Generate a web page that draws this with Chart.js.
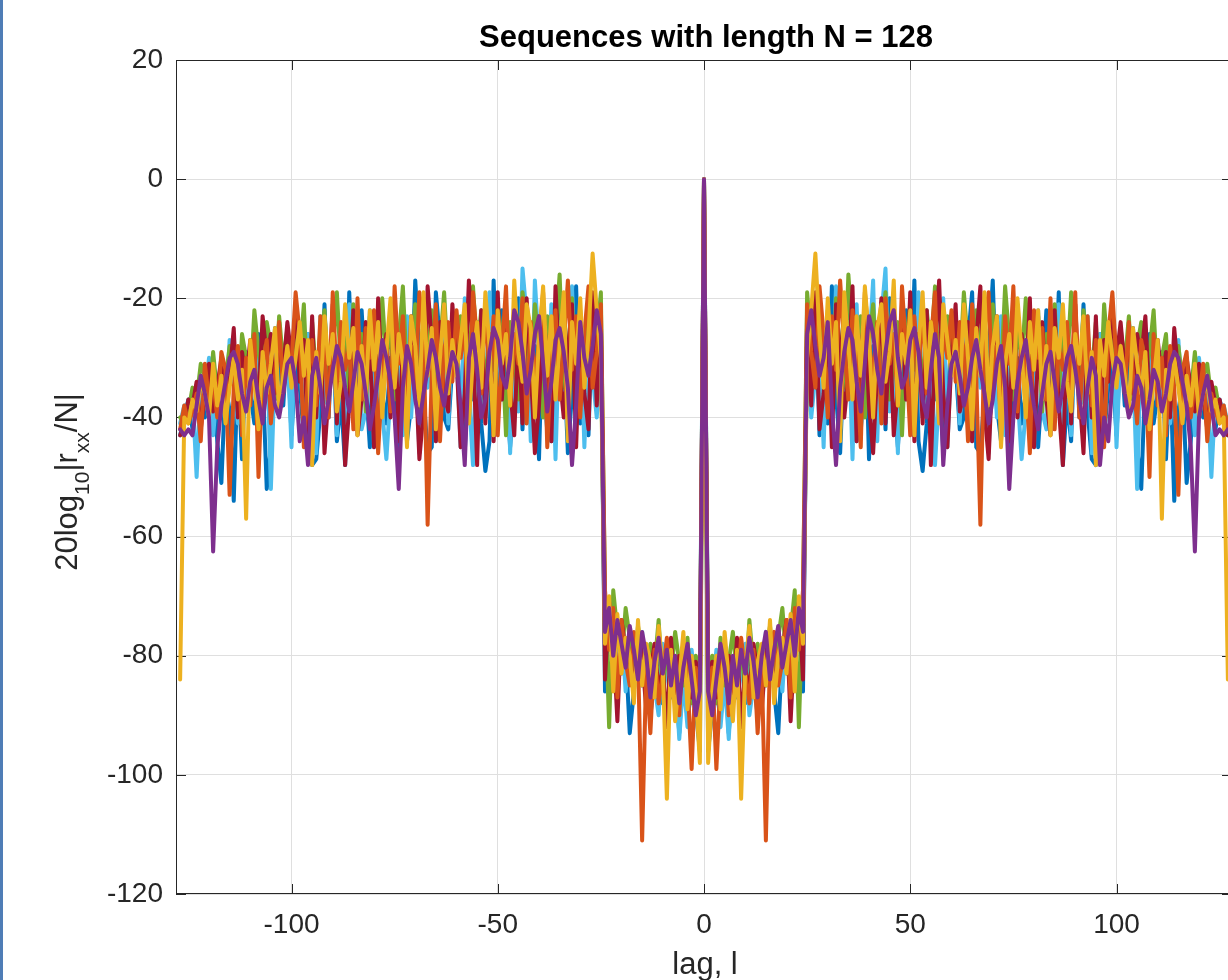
<!DOCTYPE html>
<html>
<head>
<meta charset="utf-8">
<title>Sequences with length N = 128</title>
<script src="https://cdn.jsdelivr.net/npm/chart.js@4.4.1/dist/chart.umd.min.js"></script>
<style>
  html, body { margin: 0; padding: 0; background: #fff; overflow: hidden; }
  #wrap { position: relative; width: 1228px; height: 980px; overflow: hidden; }
  #myChart { position: absolute; left: 0; top: 0; }
  #edge { position: absolute; left: 0; top: 0; width: 3px; height: 980px; background: #4f7db6; }
</style>
</head>
<body>
<div id="wrap">
  <canvas id="myChart" width="1240" height="980"></canvas>
  <div id="edge"></div>
</div>
<script>
// 20log10|r_xx/N| in dB for lags 1..127 (autocorrelation is even, negative lags mirror these)
const zeroLagDb = 0;

const blueDb = [
  -96, -89, -85, -91, -80, -93, -83, -87, -79, -88, -78, -84, -90, -80, -85, -76, -86, -93, -79, -83, -75, -81, -72, -86,
  -24, -38, -20, -43, -27, -41, -18, -36, -46, -29, -19, -40, -44, -33, -21, -47, -28, -39, -23, -42, -20, -35, -45, -34,
  -22, -38, -17, -44, -49, -41, -24, -37, -30, -46, -39, -25,
  -31, -42, -40, -27, -19, -45, -46, -36, -29, -17, -38, -44, -26, -47, -35, -30, -41, -36, -42, -25,
  -45, -34, -22, -41, -38, -19, -48, -37, -44, -24, -40, -21, -39, -47, -48, -26, -43, -35, -31, -43,
  -27, -38, -30, -25, -45, -52, -33, -26, -41, -36, -29, -47, -31, -54, -39, -34, -51, -44, -32, -36,
  -40, -33, -38, -42, -37, -40, -43
];
const orangeDb = [
  -88, -82, -99, -84, -78, -90, -81, -86, -77, -83, -88, -79, -93, -82, -111, -80, -76, -85, -81, -74, -87, -72, -79, -69,
  -21, -29, -35, -18, -26, -40, -23, -32, -17, -28, -37, -22, -30, -45, -19, -27, -34, -24, -41, -20, -31, -26, -38, -18,
  -29, -43, -23, -33, -21, -36, -27, -19, -40, -25, -30, -22,
  -34, -24, -29, -44, -21, -33, -58, -26, -19, -36, -28, -41, -23, -31, -18, -39, -27, -33, -46, -22,
  -30, -25, -37, -20, -42, -28, -32, -24, -35, -19, -40, -29, -23, -38, -27, -33, -45, -26, -19, -31,
  -29, -36, -24, -33, -41, -27, -31, -50, -26, -38, -30, -43, -28, -35, -53, -32, -29, -40, -34, -37,
  -31, -44, -36, -39, -41, -38, -42
];
const yellowDb = [
  -98, -86, -80, -89, -76, -84, -91, -79, -104, -82, -75, -87, -81, -78, -85, -74, -88, -80, -77, -83, -73, -86, -70, -78,
  -30, -22, -12.5, -26, -35, -20, -31, -24, -44, -19, -28, -37, -23, -33, -18, -27, -40, -25, -21, -34, -29, -17, -38, -26,
  -31, -22, -43, -28, -19, -35, -24, -30, -41, -21, -27, -33,
  -27, -36, -21, -30, -42, -25, -33, -19, -38, -28, -23, -45, -31, -26, -35, -20, -29, -40, -24, -32,
  -22, -37, -28, -43, -25, -30, -21, -34, -39, -26, -31, -23, -36, -29, -48, -27, -33, -24, -30, -35,
  -28, -33, -39, -25, -31, -36, -29, -42, -34, -27, -57, -32, -37, -30, -35, -41, -33, -38, -31, -40,
  -36, -34, -39, -37, -41, -40, -84
];
const purpleDb = [
  -86, -90, -84, -78, -82, -88, -80, -85, -79, -83, -77, -81, -87, -80, -76, -84, -79, -75, -82, -78, -74, -80, -72, -76,
  -26, -22, -28, -33, -30, -24, -38, -48, -35, -29, -25, -27, -34, -39, -31, -23, -26, -32, -36, -29, -24, -22, -30, -35,
  -33, -27, -25, -29, -37, -40, -32, -26, -30, -48, -38, -31,
  -29, -33, -38, -35, -30, -27, -32, -36, -41, -37, -31, -28, -35, -52, -40, -34, -30, -27, -33, -38,
  -42, -36, -31, -29, -34, -39, -35, -30, -28, -32, -37, -41, -35, -30, -33, -48, -40, -44, -34, -30,
  -31, -36, -40, -38, -33, -35, -41, -37, -32, -34, -39, -36, -31, -29, -30, -34, -38, -45, -62.5, -40,
  -36, -33, -38, -43, -42, -43, -42
];
const greenDb = [
  -84, -80, -88, -77, -85, -81, -76, -83, -79, -86, -74, -82, -78, -84, -80, -75, -83, -77, -72, -81, -76, -69, -92, -70,
  -19, -27, -33, -22, -30, -24, -38, -20, -29, -35, -16, -26, -31, -23, -40, -28, -21, -34, -25, -19, -37, -30, -24, -43,
  -27, -21, -32, -26, -36, -22, -29, -18, -34, -27, -23, -31,
  -24, -32, -19, -28, -35, -22, -30, -26, -41, -21, -29, -33, -18, -27, -37, -24, -31, -20, -34, -28,
  -23, -39, -26, -30, -21, -36, -25, -32, -19, -29, -35, -22, -27, -33, -24, -38, -21, -30, -26, -34,
  -25, -31, -23, -37, -28, -24, -33, -29, -22, -35, -30, -26, -39, -31, -28, -34, -32, -36, -29, -38,
  -33, -31, -37, -35, -39, -41, -40
];
const cyanDb = [
  -82, -87, -79, -92, -84, -94, -81, -86, -83, -78, -90, -85, -80, -88, -76, -84, -81, -79, -86, -75, -83, -77, -71, -80,
  -28, -40, -33, -25, -45, -22, -38, -18, -42, -35, -24, -47, -21, -42, -36, -29, -17, -44, -23, -15, -39, -27, -46, -21,
  -37, -25, -43, -19, -40, -33, -24, -48, -36, -20, -45, -29,
  -26, -41, -22, -38, -44, -24, -35, -20, -46, -27, -40, -23, -43, -34, -21, -36, -47, -39, -32, -45,
  -22, -39, -42, -26, -35, -21, -44, -29, -43, -24, -38, -37, -23, -46, -34, -26, -41, -30, -22, -45,
  -28, -35, -24, -31, -52, -27, -33, -38, -26, -30, -36, -29, -41, -34, -27, -39, -31, -35, -43, -30,
  -37, -34, -50, -36, -40, -38, -41
];
const redDb = [
  -85, -81, -87, -79, -84, -80, -88, -77, -92, -82, -86, -78, -83, -89, -80, -76, -85, -81, -79, -74, -91, -77, -71, -84,
  -23, -38, -19, -42, -36, -24, -45, -21, -29, -40, -33, -18, -44, -30, -22, -38, -46, -32, -20, -41, -25, -43, -35, -23,
  -37, -19, -44, -26, -41, -22, -48, -28, -17, -36, -45, -30,
  -21, -39, -36, -24, -44, -27, -18, -39, -47, -31, -23, -42, -28, -44, -22, -40, -26, -35, -20, -45,
  -29, -24, -37, -43, -22, -38, -48, -26, -41, -21, -36, -46, -25, -40, -23, -44, -27, -34, -22, -30,
  -24, -32, -28, -36, -26, -30, -23, -38, -31, -27, -34, -29, -40, -25, -33, -37, -30, -35, -39, -31,
  -36, -42, -34, -38, -37, -41, -43
];

const xTickValues = [-100, -50, 0, 50, 100];
const yTickValues = [-120, -100, -80, -60, -40, -20, 0, 20];

const FONT = '"Liberation Sans", Arial, Helvetica, sans-serif';

// full lag axis -127..127 from the one-sided values
function toPoints(vals) {
    const pts = [];
    for (let k = vals.length; k >= 1; k--) pts.push({ x: -k, y: vals[k - 1] });
    pts.push({ x: 0, y: zeroLagDb });
    vals.forEach((v, i) => pts.push({ x: i + 1, y: v }));
    return pts;
}

function series(vals, color) {
    return {
        data: toPoints(vals),
        borderColor: color,
        borderWidth: 4,
        pointRadius: 0,
        tension: 0,
        fill: false,
        borderJoinStyle: 'round',
        borderCapStyle: 'round'
    };
}

// box, inward ticks and the texts MATLAB puts round the axes
const matlabAxes = {
    id: 'matlabAxes',
    beforeDatasetsDraw(chart) {
        const { ctx, chartArea: a, scales } = chart;
        ctx.save();
        ctx.strokeStyle = '#262626';
        ctx.lineWidth = 1;
        ctx.strokeRect(a.left + 0.5, a.top + 0.5, a.right - a.left - 1, a.bottom - a.top - 1);
        ctx.beginPath();
        xTickValues.forEach(v => {
            const px = Math.round(scales.x.getPixelForValue(v)) + 0.5;
            ctx.moveTo(px, a.bottom); ctx.lineTo(px, a.bottom - 10);
            ctx.moveTo(px, a.top); ctx.lineTo(px, a.top + 10);
        });
        yTickValues.forEach(v => {
            const py = Math.round(scales.y.getPixelForValue(v)) + 0.5;
            ctx.moveTo(a.left, py); ctx.lineTo(a.left + 10, py);
            ctx.moveTo(a.right, py); ctx.lineTo(a.right - 10, py);
        });
        ctx.stroke();
        ctx.restore();
    },
    afterDraw(chart) {
        const { ctx, chartArea: a } = chart;
        const cx = (a.left + a.right) / 2;
        ctx.save();
        ctx.fillStyle = '#000';
        ctx.font = 'bold 31px ' + FONT;
        ctx.textAlign = 'center';
        ctx.textBaseline = 'alphabetic';
        ctx.fillText('Sequences with length N = 128', cx + 2, 47);

        ctx.fillStyle = '#262626';
        ctx.font = '31px ' + FONT;
        ctx.fillText('lag, l', cx + 1, 974);

        // y label with subscripts, rotated
        const parts = [
            { t: '20log', size: 31, dy: 0 },
            { t: '10', size: 21, dy: 12 },
            { t: '|r', size: 31, dy: 0 },
            { t: 'xx', size: 21, dy: 12 },
            { t: '/N|', size: 31, dy: 0 }
        ];
        let total = 0;
        parts.forEach(p => { ctx.font = p.size + 'px ' + FONT; p.w = ctx.measureText(p.t).width; total += p.w; });
        ctx.translate(77, 482);
        ctx.rotate(-Math.PI / 2);
        ctx.textAlign = 'left';
        let x = -total / 2;
        parts.forEach(p => {
            ctx.font = p.size + 'px ' + FONT;
            ctx.fillText(p.t, x, p.dy);
            x += p.w;
        });
        ctx.restore();
    }
};

const ctx = document.getElementById('myChart').getContext('2d');
new Chart(ctx, {
    type: 'line',
    data: {
        datasets: [
            series(purpleDb, '#7E2F8E'),
            series(yellowDb, '#EDB120'),
            series(orangeDb, '#D95319'),
            series(redDb, '#A2142F'),
            series(greenDb, '#77AC30'),
            series(cyanDb, '#4DBEEE'),
            series(blueDb, '#0072BD')
        ]
    },
    options: {
        responsive: false,
        animation: false,
        devicePixelRatio: 1,
        layout: { padding: { top: 60, right: 8, left: 0, bottom: 0 } },
        plugins: {
            legend: { display: false },
            tooltip: { enabled: false },
            title: { display: false }
        },
        scales: {
            x: {
                type: 'linear',
                min: -128,
                max: 128,
                afterBuildTicks: s => { s.ticks = xTickValues.map(v => ({ value: v })); },
                afterFit: s => { s.height = 86; },
                grid: { color: '#dfdfdf', lineWidth: 1, drawTicks: false },
                border: { display: false },
                ticks: {
                    padding: 14,
                    color: '#262626',
                    font: { family: FONT, size: 28 },
                    maxRotation: 0,
                    autoSkip: false
                }
            },
            y: {
                type: 'linear',
                min: -120,
                max: 20,
                afterBuildTicks: s => { s.ticks = yTickValues.map(v => ({ value: v })); },
                afterFit: s => { s.width = 176; },
                grid: { color: '#dfdfdf', lineWidth: 1, drawTicks: false },
                border: { display: false },
                ticks: {
                    padding: 13,
                    color: '#262626',
                    font: { family: FONT, size: 28 },
                    autoSkip: false
                }
            }
        }
    },
    plugins: [matlabAxes]
});
</script>
</body>
</html>
